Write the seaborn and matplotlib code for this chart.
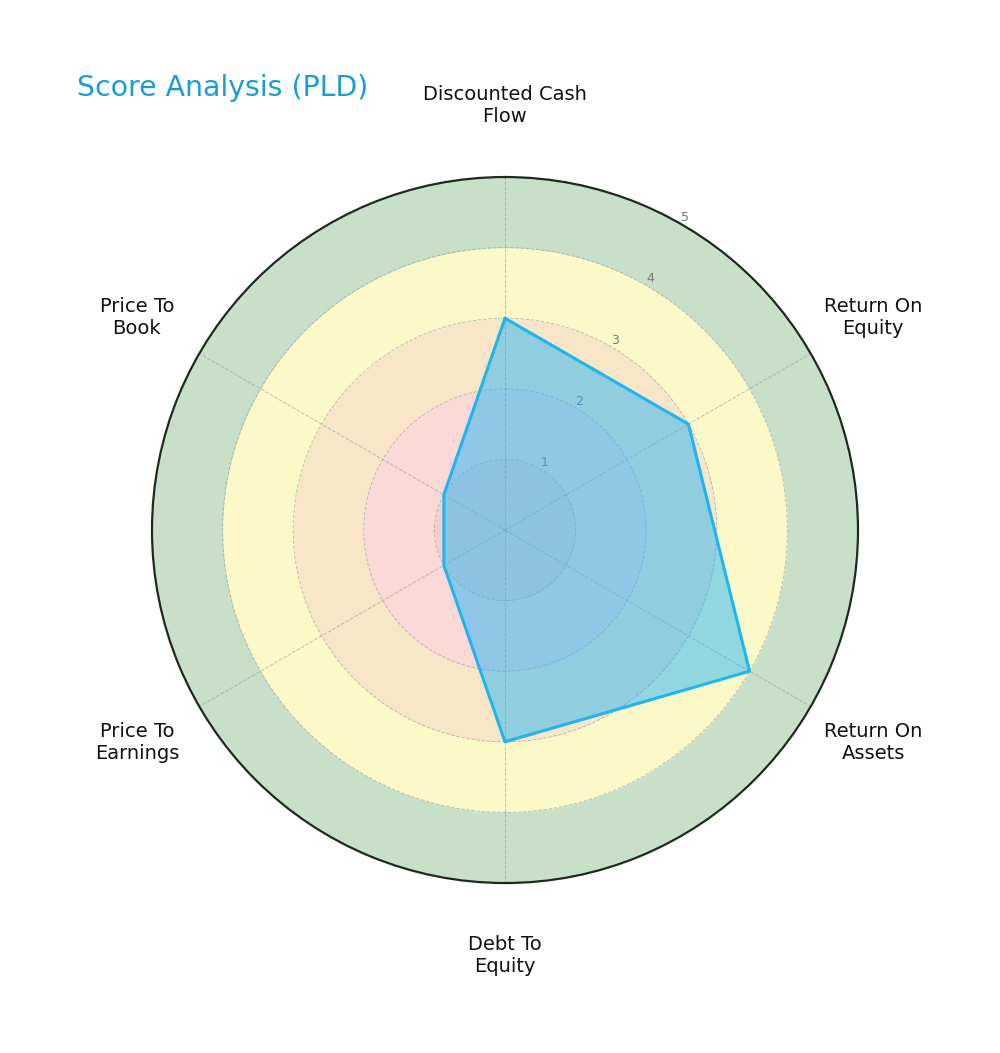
import numpy as np
import pandas as pd
import matplotlib
matplotlib.use("Agg")
import matplotlib.pyplot as plt
import seaborn as sns

categories = ["Discounted Cash\nFlow", "Return On\nEquity", "Return On\nAssets",
              "Debt To\nEquity", "Price To\nEarnings", "Price To\nBook"]
scores = [3, 3, 4, 3, 1, 1]
ring_edges = [0, 1, 2, 3, 4, 5]
ring_colors = ["#f5cfcd", "#fad9d7", "#f9e6c8", "#fcf9c8", "#c8e0c8"]
rticks = [1, 2, 3, 4, 5]
title = "Score Analysis (PLD)"

sns.set_theme(style="white")
plt.rcParams["font.family"] = ["DejaVu Sans"]

df = pd.DataFrame({"metric": categories, "score": scores})
n = len(df)
angles = np.linspace(0, 2 * np.pi, n, endpoint=False)
theta_closed = np.append(angles, angles[0])
vals_closed = np.append(df["score"].values, df["score"].values[0])

fig = plt.figure(figsize=(10, 10.53), dpi=100)
ax = fig.add_axes([0.152, 0.1614, 0.706, 0.6705], projection="polar")
ax.set_theta_zero_location("N")
ax.set_theta_direction(-1)

full = np.linspace(0, 2 * np.pi, 400)
for lo, hi, c in zip(ring_edges[:-1], ring_edges[1:], ring_colors):
    ax.fill_between(full, lo, hi, color=c, zorder=0, linewidth=0)

ax.fill(theta_closed, vals_closed, color="#29b6f6", alpha=0.5, zorder=3, linewidth=0)
sns.lineplot(x=theta_closed, y=vals_closed, ax=ax, color="#1fb6f0", linewidth=2.2,
             sort=False, zorder=4, estimator=None)

ax.set_ylim(0, 5)
ax.set_yticks(rticks)
ax.set_yticklabels([str(t) for t in rticks], fontsize=9, color="#777777")
ax.set_rlabel_position(30)
ax.set_xticks(angles)
ax.set_xticklabels([])
ax.grid(True, color="#999999", linestyle="--", linewidth=0.7, alpha=0.6)
ax.spines["polar"].set_color("#1f2a1f")
ax.spines["polar"].set_linewidth(1.6)
ax.set_facecolor("white")

for ang, lab in zip(angles, df["metric"]):
    ax.text(ang, 6.02, lab, ha="center", va="center", fontsize=14, color="#111111")

fig.text(0.077, 0.916, title, fontsize=20.4, color="#1a9dd4", ha="left", va="center")

fig.savefig("out.png", dpi=100, facecolor="white")
